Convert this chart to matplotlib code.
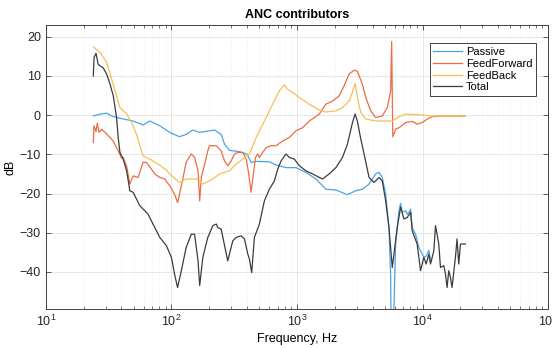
import numpy as np
import matplotlib
matplotlib.use('Agg')
from matplotlib import pyplot as plt
from matplotlib.ticker import LogLocator, NullFormatter

plt.rcParams['font.family'] = ['Liberation Sans', 'DejaVu Sans']

# Passive
f_pas = [23.9, 27.0, 30.5, 33.4, 38.9, 49.6, 59.5, 67.3, 80.8, 97.0, 116, 131, 148, 168,
         201, 221, 249, 265, 290, 348, 403, 431, 473, 603, 681, 818, 982, 1178, 1415,
         1698, 2040, 2522, 2937, 3317, 3750, 4234, 4497, 4777, 5086, 5403, 5571, 5675,
         6104, 6486, 6687, 6890, 7328, 7548, 7789, 8035, 8268, 8795, 9345, 9640,
         10240, 10680, 11220, 11570]
db_pas = [-0.2, 0.25, 0.5, -0.2, -0.8, -1.5, -2.5, -1.5, -2.7, -4.4, -5.5, -4.9, -3.8, -4.4,
          -4.0, -3.8, -4.9, -7.4, -9.0, -9.3, -10.0, -12.1, -11.8, -11.9, -12.7, -13.4, -13.4,
          -14.6, -16.3, -18.9, -19.1, -20.3, -19.3, -18.9, -17.6, -15.0, -14.6, -15.9, -20.2,
          -28.7, -41.4, -70.0, -32.9, -24.4, -22.5, -24.8, -24.4, -25.3, -24.8, -24.0, -28.7,
          -30.4, -33.8, -34.6, -36.3, -36.0, -34.5, -37.0]

# FeedForward
f_ff = [23.9, 24.2, 25.1, 25.7, 26.6, 27.8, 29.6, 32.4, 34.4, 36.6, 38.9, 40.1, 41.3, 44.0,
        46.7, 49.6, 54.3, 59.5, 63.3, 67.3, 73.7, 80.8, 88.5, 97.0, 106, 112, 116, 124, 131,
        144, 153, 163, 168, 173, 184, 195, 201, 228, 249, 265, 281, 299, 318, 338, 370, 394,
        413, 431, 450, 467, 487, 502, 534, 568, 622, 681, 769, 869, 982, 1107, 1253, 1503,
        1698, 1917, 2167, 2373, 2601, 2851, 3026, 3317, 3530, 3866, 4234, 4777, 5236, 5571,
        5675, 5794, 6104, 6486, 7328, 8268, 9057, 9930, 10880, 11920, 14310, 21930]
db_ff = [-7.0, -2.7, -4.2, -2.0, -4.4, -3.6, -4.4, -5.7, -6.6, -8.3, -10.0, -11.0, -10.8, -13.0,
         -17.6, -15.5, -15.9, -12.0, -12.1, -13.2, -15.0, -15.9, -16.3, -18.0, -20.2, -22.3,
         -20.2, -15.9, -12.0, -9.9, -10.8, -14.2, -21.9, -15.9, -12.5, -9.1, -7.8, -7.8, -9.1,
         -11.7, -12.9, -11.7, -9.9, -9.5, -9.5, -11.2, -15.0, -19.7, -15.0, -10.8, -9.9, -10.8,
         -9.5, -8.3, -7.8, -7.8, -6.6, -5.7, -4.0, -3.2, -1.5, 0.25, 2.8, 3.6, 4.9, 7.5, 10.5,
         11.5, 11.2, 7.9, 4.5, 1.1, -0.6, -0.2, 1.9, 6.2, 18.8, -5.5, -3.6, -3.2, -1.9, -1.6,
         -2.3, -1.9, -1.0, -0.4, -0.2, -0.2]

# FeedBack
f_fb = [23.9, 27.0, 30.5, 34.4, 38.9, 44.0, 48.2, 52.7, 56.0, 59.5, 67.3, 78.3, 91.2, 97.0,
        116, 131, 158, 178, 214, 242, 290, 328, 370, 418, 473, 550, 640, 724, 793, 842, 923,
        1043, 1253, 1503, 1698, 2040, 2302, 2601, 2761, 2902, 3026, 3218, 3530, 4234, 5740,
        6486, 7328, 9345, 11920, 21930]
db_fb = [17.4, 16.0, 13.5, 7.9, 1.9, 0.3, -1.9, -4.8, -7.8, -10.4, -11.2, -12.5, -14.0, -15.0,
         -17.2, -16.3, -16.3, -17.6, -16.3, -15.0, -14.2, -12.5, -11.2, -9.9, -5.7, -1.5, 2.8,
         6.2, 7.7, 6.6, 5.8, 4.5, 2.8, 1.3, 0.8, 1.1, 1.9, 3.6, 5.8, 8.1, 4.5, 0.7, -1.0, -1.5,
         -1.5, -0.4, 0.25, 0.1, -0.2, -0.2]

# Total
f_tot = [23.9, 24.2, 25.1, 26.1, 27.0, 28.6, 30.5, 32.4, 34.4, 36.6, 37.7, 38.9, 41.3, 44.0,
         46.7, 49.6, 52.7, 56.0, 61.4, 65.2, 71.4, 80.8, 91.2, 100, 106, 112, 120, 131, 144,
         153, 163, 168, 178, 195, 214, 228, 234, 249, 281, 308, 328, 359, 382, 406, 418, 436,
         458, 502, 550, 603, 660, 702, 747, 818, 869, 952, 1043, 1178, 1330, 1596, 1804, 2040,
         2302, 2522, 2761, 2902, 3026, 3218, 3421, 3750, 4104, 4497, 4777, 5086, 5403, 5740,
         6285, 6687, 7106, 7548, 8035, 8268, 9057, 9640, 10240, 10680, 11220, 11570, 12300,
         12680, 13460, 13890, 14760, 15230, 15680, 16170, 16680, 17170, 18270, 18820, 19410,
         20040, 21930]
db_tot = [10.0, 14.7, 15.8, 13.0, 12.6, 12.1, 10.5, 8.0, 5.0, -0.6, -5.7, -9.5, -11.2, -14.2,
          -19.3, -19.7, -21.4, -23.1, -24.4, -25.3, -27.8, -31.2, -33.3, -36.3, -40.6, -44.0,
          -39.7, -33.8, -30.4, -30.4, -37.2, -43.5, -36.3, -31.2, -28.2, -27.8, -28.7, -29.1,
          -37.2, -32.1, -31.2, -30.8, -31.6, -35.5, -36.7, -40.2, -31.2, -27.8, -21.9, -18.9,
          -16.8, -13.8, -11.7, -9.9, -10.8, -11.2, -12.9, -14.2, -15.0, -16.3, -15.0, -13.4,
          -10.8, -7.4, -2.0, 0.3, -1.5, -6.0, -9.9, -15.9, -17.2, -15.9, -16.8, -21.9, -28.7,
          -38.9, -28.7, -23.5, -26.5, -26.1, -24.8, -29.5, -32.9, -39.7, -36.3, -38.0, -35.5,
          -38.0, -34.6, -28.2, -32.9, -38.9, -38.4, -40.6, -44.0, -39.7, -41.4, -44.0, -36.3,
          -31.6, -38.0, -32.9, -32.9]

fig = plt.figure(figsize=(5.52, 3.48), dpi=100)
ax = fig.add_axes([0.083, 0.113, 0.910, 0.815])

lw = 0.9
ax.semilogx(f_pas, db_pas, color='#4da3e3', lw=lw, label='Passive')
ax.semilogx(f_ff, db_ff, color='#ea6d45', lw=lw, label='FeedForward')
ax.semilogx(f_fb, db_fb, color='#f4c055', lw=lw, label='FeedBack')
ax.semilogx(f_tot, db_tot, color='#3c3c3c', lw=lw, label='Total')

ax.set_xlim(10, 1e5)
ax.set_ylim(-49.4, 23)
ax.set_yticks([-40, -30, -20, -10, 0, 10, 20])
ax.xaxis.set_major_locator(LogLocator(base=10, numticks=10))
ax.xaxis.set_minor_locator(LogLocator(base=10, subs=np.arange(2, 10), numticks=20))
ax.xaxis.set_minor_formatter(NullFormatter())

ax.grid(True, which='major', color='#e3e3e3', lw=0.6)
ax.grid(True, which='minor', axis='x', color='#ececec', lw=0.5, ls=':')
ax.set_axisbelow(True)

ax.tick_params(which='both', direction='in', top=True, right=True, colors='#404040',
               labelsize=9, labelcolor='#262626')
ax.tick_params(which='major', length=3.5, width=0.6)
ax.tick_params(which='minor', length=2, width=0.5)
for s in ax.spines.values():
    s.set_color('#404040')
    s.set_linewidth(0.7)

ax.set_title('ANC contributors', fontsize=9, fontweight='bold', pad=5)
ax.set_xlabel('Frequency, Hz', fontsize=9, labelpad=3)
ax.set_ylabel('dB', fontsize=9, labelpad=2)

leg = ax.legend(loc='upper right', bbox_to_anchor=(0.976, 0.935), fontsize=8,
                fancybox=False, framealpha=1, edgecolor='#404040', handlelength=2.6,
                handletextpad=0.3, borderpad=0.35, labelspacing=0.15, borderaxespad=0)
leg.get_frame().set_linewidth(0.7)

fig.savefig('out.png', dpi=100)
